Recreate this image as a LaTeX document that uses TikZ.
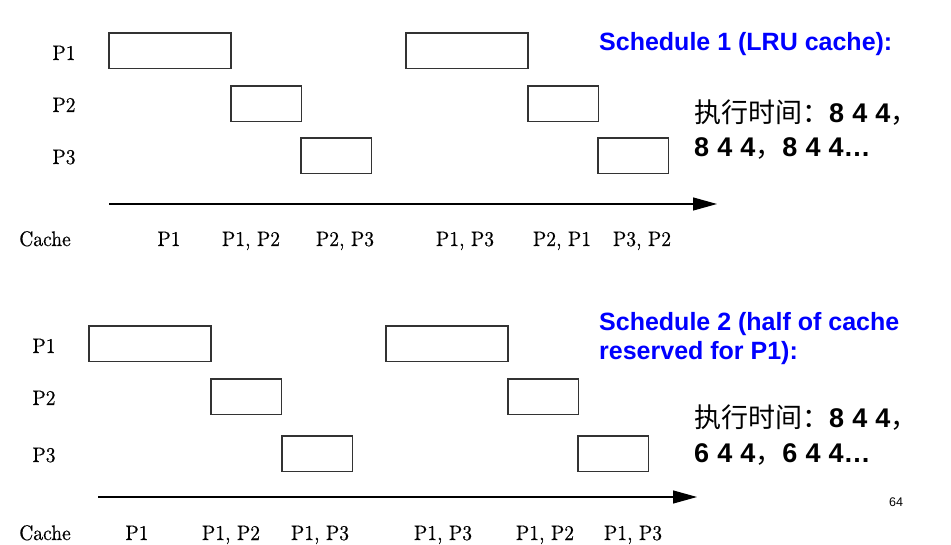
\documentclass[tikz,border=0pt]{standalone}
\usepackage{fontspec}
\setmainfont{lmroman10-regular}[Extension=.otf, FakeBold=0.5]
\newfontfamily\hv{Liberation Sans}
\newfontfamily\cjk{Noto Sans CJK SC}
\usetikzlibrary{arrows.meta}
\begin{document}
\begin{tikzpicture}[x=1pt,y=-1pt,
  slot/.style={draw=black!80, line width=1.1pt, inner sep=0pt, outer sep=0pt, anchor=north west, minimum height=35.5pt},
  lng/.style={slot, minimum width=122pt},
  sht/.style={slot, minimum width=70.5pt},
  lbl/.style={font=\fontsize{21}{25}\selectfont, inner sep=0pt, anchor=base},
  axis/.style={line width=1.2pt, -{Triangle[length=24pt,width=13pt]}},
  ttl/.style={font=\hv\bfseries\fontsize{25}{29}\selectfont, text=blue, inner sep=0pt, anchor=base west},
  cjkl/.style={font=\cjk\fontsize{27}{34}\selectfont, inner sep=0pt, anchor=base west},
  pg/.style={font=\hv\fontsize{12.5}{14}\selectfont, inner sep=0pt, anchor=base}
]
\useasboundingbox (0,0) rectangle (951,545);
\newcommand\dg[1]{{\hv\bfseries\fontsize{27}{34}\selectfont\spaceskip=0.3em #1}}
\newcommand\nw[1]{\scalebox{0.93}[1]{#1}}

% ---------- Schedule 1 ----------
\node[lbl] (l1p1) at (64,60) {\nw{P1}};
\node[lbl] (l1p2) at (64,112) {\nw{P2}};
\node[lbl] (l1p3) at (64,164) {\nw{P3}};

\node[lng] (a1) at (109,33) {};
\node[sht] (a2) at (231,86) {};
\node[sht] (a3) at (301,138) {};
\node[lng] (a4) at (406,33) {};
\node[sht] (a5) at (528,86) {};
\node[sht] (a6) at (598,138) {};

\coordinate (s1) at (109,204);
\coordinate (e1) at (717,204);
\draw[axis] (s1) -- (e1);

\node[lbl] (c1) at (45,246) {\nw{Cache}};
\node[lbl] (c11) at (169,246) {\nw{P1}};
\node[lbl] (c12) at (251,246) {\nw{P1, P2}};
\node[lbl] (c13) at (345,246) {\nw{P2, P3}};
\node[lbl] (c14) at (465,246) {\nw{P1, P3}};
\node[lbl] (c15) at (562,246) {\nw{P2, P1}};
\node[lbl] (c16) at (642,246) {\nw{P3, P2}};

\node[ttl] (t1) at (599,51) {Schedule 1 (LRU cache):};
\node[cjkl] (x1) at (694,123) {执行时间：\dg{8 4 4}，};
\node[cjkl] (x2) at (694,157) {\dg{8 4 4}，\dg{8 4 4…}};

% ---------- Schedule 2 ----------
\node[lbl] (l2p1) at (44,353) {\nw{P1}};
\node[lbl] (l2p2) at (44,405) {\nw{P2}};
\node[lbl] (l2p3) at (44,462) {\nw{P3}};

\node[lng] (b1) at (89,326) {};
\node[sht] (b2) at (211,379) {};
\node[sht] (b3) at (282,436) {};
\node[lng] (b4) at (386,326) {};
\node[sht] (b5) at (508,379) {};
\node[sht] (b6) at (578,436) {};

\coordinate (s2) at (98,497);
\coordinate (e2) at (697,497);
\draw[axis] (s2) -- (e2);

\node[lbl] (c2) at (45,540) {\nw{Cache}};
\node[lbl] (c21) at (137,540) {\nw{P1}};
\node[lbl] (c22) at (231,540) {\nw{P1, P2}};
\node[lbl] (c23) at (320,540) {\nw{P1, P3}};
\node[lbl] (c24) at (443,540) {\nw{P1, P3}};
\node[lbl] (c25) at (545,540) {\nw{P1, P2}};
\node[lbl] (c26) at (633,540) {\nw{P1, P3}};

\node[ttl] (t2) at (599,331) {Schedule 2 (half of cache};
\node[ttl] (t3) at (599,360) {reserved for P1):};
\node[cjkl] (x3) at (694,428) {执行时间：\dg{8 4 4}，};
\node[cjkl] (x4) at (694,462) {\dg{6 4 4}，\dg{6 4 4…}};

\node[pg] (pnum) at (896,506) {64};
\end{tikzpicture}
\end{document}
